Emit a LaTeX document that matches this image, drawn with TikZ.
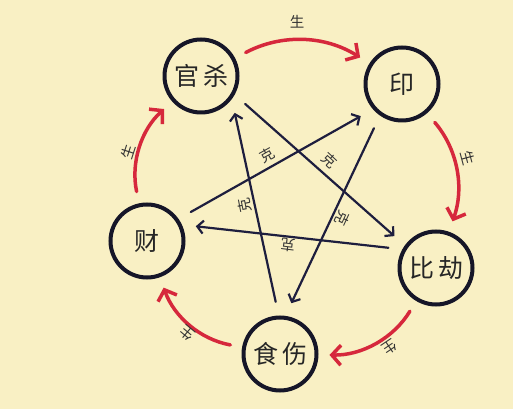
\documentclass[tikz,border=0pt]{standalone}
\usepackage{fontspec}
\newfontfamily\cjk{Noto Sans CJK SC}
\usetikzlibrary{arrows.meta}
\definecolor{bgyellow}{RGB}{249,240,196}
\definecolor{shengred}{RGB}{214,40,60}
\definecolor{kenavy}{RGB}{30,30,62}
\definecolor{ringcol}{RGB}{22,22,40}
\begin{document}
\begin{tikzpicture}[x=1pt,y=1pt,
  elem/.style={circle,draw=ringcol,line width=4pt,minimum size=73pt,inner sep=0pt,
    font=\cjk\fontsize{25}{25}\selectfont,text=black!85},
  sheng/.style={draw=shengred,line width=3.5pt,line cap=round,
    -{Straight Barb[length=9pt,width=20pt]},bend left=30,shorten <=12pt,shorten >=11pt},
  ke/.style={draw=kenavy,line width=2.2pt,line cap=round,
    -{Straight Barb[length=6pt,width=13pt]},shorten <=14pt,shorten >=14pt},
  lab/.style={font=\cjk\fontsize{14.5}{14.5}\selectfont,text=black!80,inner sep=0pt}]
\fill[bgyellow] (0,0) rectangle (513,409);
\useasboundingbox (0,0) rectangle (513,409);

\node[elem] (gs)  at (201,333) {官\hspace{4pt}杀};
\node[elem] (yin) at (402,325) {印};
\node[elem] (bj)  at (436,141) {比\hspace{4pt}劫};
\node[elem] (ss)  at (280,55)  {食\hspace{4pt}伤};
\node[elem] (cai) at (147,168) {财};

% sheng cycle
\draw[sheng] (gs) to (yin);
\draw[sheng] (yin) to (bj);
\draw[sheng] (bj) to (ss);
\draw[sheng] (ss) to (cai);
\draw[sheng] (cai) to (gs);

\node[lab,rotate=0]    (s1) at (297,387) {生};
\node[lab,rotate=-75]  (s2) at (468,251) {生};
\node[lab,rotate=-146] (s3) at (390,62)  {生};
\node[lab,rotate=140]  (s4) at (187,76)  {生};
\node[lab,rotate=72]   (s5) at (128,257) {生};

% ke star
\draw[ke] (gs.-29) -- (bj.144);
\draw[ke] (ss.92) -- (gs.-37);
\draw[ke] (cai.35) -- (yin.-139);
\draw[ke] (yin.-125) -- (ss.82);
\draw[ke] (bj.151) -- (cai.25);

\node[lab,rotate=29]   (k1) at (267,254) {克};
\node[lab,rotate=-43]  (k2) at (330,249) {克};
\node[lab,rotate=101]  (k3) at (245,204) {克};
\node[lab,rotate=-115] (k4) at (342,191) {克};
\node[lab,rotate=173]  (k5) at (288,164) {克};
\end{tikzpicture}
\end{document}
